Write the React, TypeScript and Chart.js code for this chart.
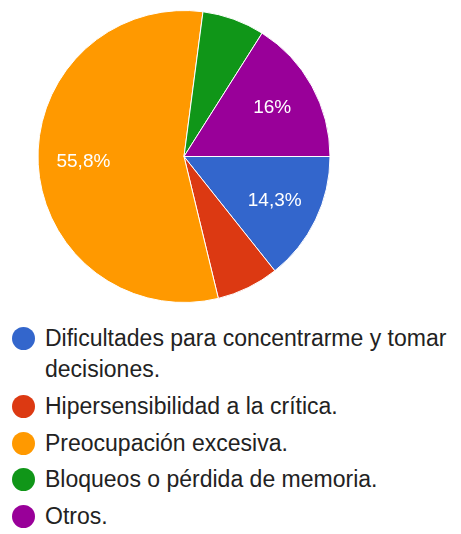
import React, { useEffect, useRef } from "react";
import { Chart, registerables } from "chart.js";

Chart.register(...registerables);

const categories: string[] = [
  "Dificultades para concentrarme y tomar decisiones.",
  "Hipersensibilidad a la crítica.",
  "Preocupación excesiva.",
  "Bloqueos o pérdida de memoria.",
  "Otros.",
];
const values: number[] = [14.3, 6.9, 55.8, 6.9, 16];
const colors: string[] = ["#3366cc", "#dc3912", "#ff9900", "#109618", "#990099"];
const labelThreshold = 10;

const FONT = "Arial, 'Liberation Sans', sans-serif";

function fmt(v: number): string {
  const s = Number.isInteger(v) ? String(v) : v.toFixed(1).replace(".", ",");
  return s + "%";
}

const sliceLabels = {
  id: "sliceLabels",
  afterDatasetsDraw(chart: any) {
    const ctx = chart.ctx;
    const meta = chart.getDatasetMeta(0);
    ctx.save();
    ctx.fillStyle = "#ffffff";
    ctx.font = `19px ${FONT}`;
    ctx.textAlign = "center";
    ctx.textBaseline = "middle";
    meta.data.forEach((arc: any, i: number) => {
      const v = values[i];
      if (v < labelThreshold) return;
      const p = arc.getProps(["x", "y", "startAngle", "endAngle", "outerRadius"], true);
      const mid = (p.startAngle + p.endAngle) / 2;
      const r = p.outerRadius * 0.69;
      ctx.fillText(fmt(v), p.x + Math.cos(mid) * r, p.y + Math.sin(mid) * r);
    });
    ctx.restore();
  },
};

export default function App() {
  const ref = useRef<HTMLCanvasElement | null>(null);
  useEffect(() => {
    if (!ref.current) return;
    const chart = new Chart(ref.current, {
      type: "pie",
      data: {
        labels: categories,
        datasets: [
          {
            data: values,
            backgroundColor: colors,
            borderColor: "#ffffff",
            borderWidth: 1,
          },
        ],
      },
      options: {
        animation: false,
        responsive: false,
        rotation: 90,
        layout: { padding: { left: 37, right: 130, top: 10, bottom: 7 } },
        plugins: {
          legend: { display: false },
          tooltip: { enabled: false },
        },
      },
      plugins: [sliceLabels],
    });
    return () => chart.destroy();
  }, []);

  return (
    <div
      style={{
        position: "absolute",
        left: 0,
        top: 0,
        width: 461,
        height: 534,
        background: "#ffffff",
        overflow: "hidden",
        fontFamily: FONT,
      }}
    >
      <canvas
        ref={ref}
        width={461}
        height={310}
        style={{ position: "absolute", left: 0, top: 0, width: 461, height: 310 }}
      />
      <div style={{ position: "absolute", left: 0, top: 323, width: 461 }}>
        {categories.map((c, i) => (
          <div
            key={c}
            style={{
              display: "flex",
              alignItems: "flex-start",
              marginBottom: 5.8,
            }}
          >
            <div
              style={{
                width: 23,
                height: 23,
                borderRadius: "50%",
                background: colors[i],
                marginLeft: 12,
                marginTop: 4,
                flex: "0 0 auto",
              }}
            />
            <div
              style={{
                marginLeft: 10,
                width: 412,
                fontSize: 23,
                lineHeight: "31px",
                color: "#222222",
              }}
            >
              {c}
            </div>
          </div>
        ))}
      </div>
    </div>
  );
}
